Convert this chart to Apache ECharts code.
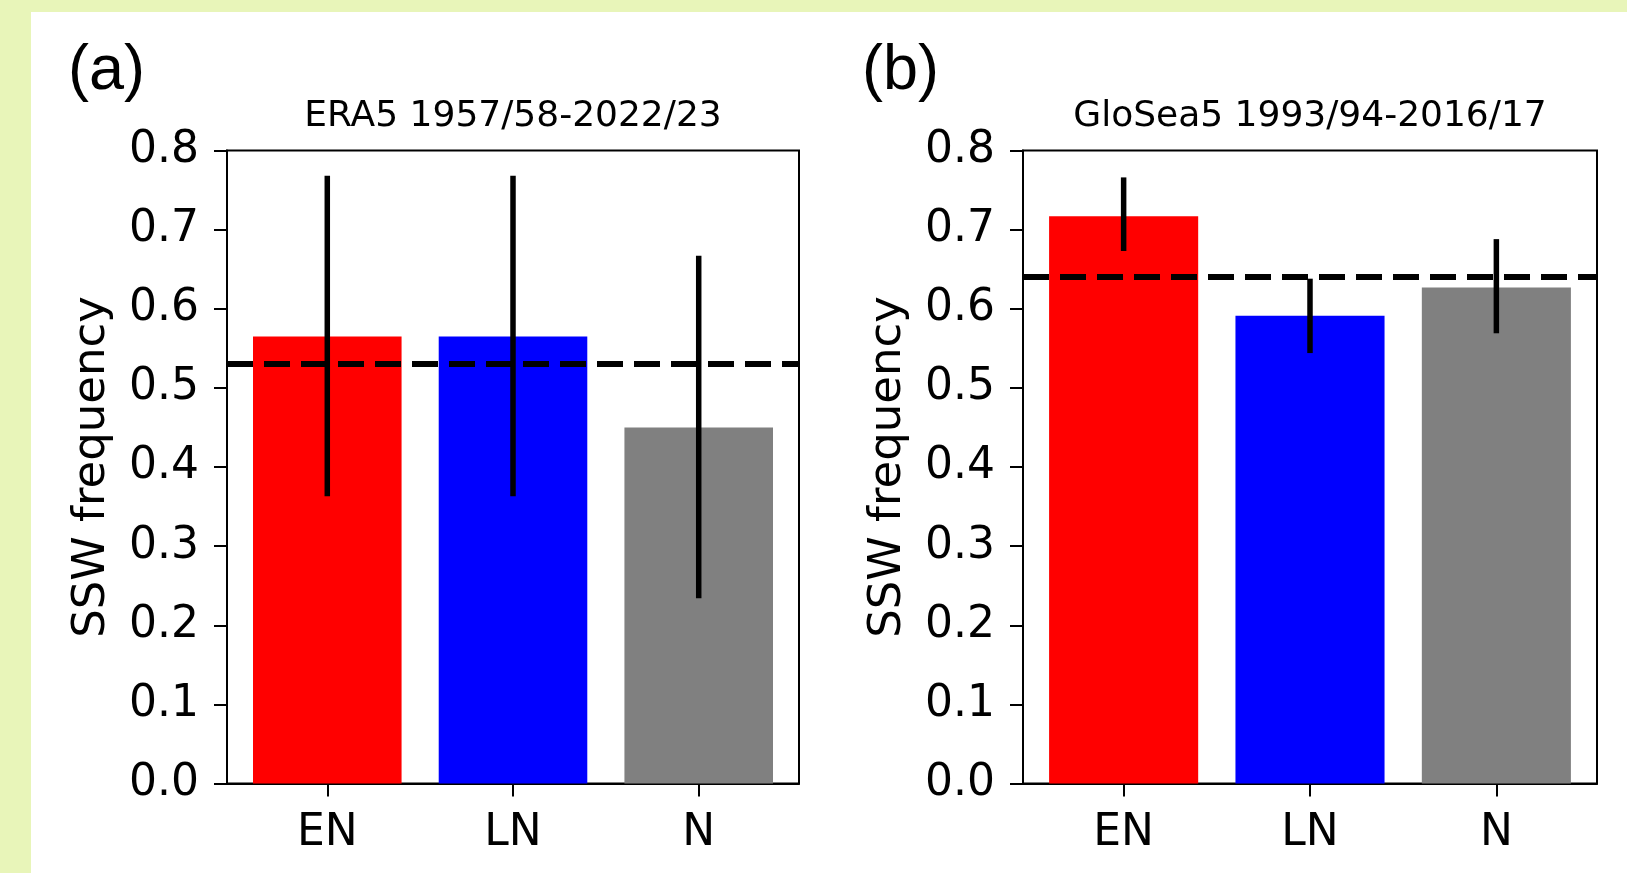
<!DOCTYPE html>
<html>
<head>
<meta charset="utf-8">
<script src="https://cdn.jsdelivr.net/npm/echarts@6/dist/echarts.min.js"></script>
<style>
  html, body { margin: 0; padding: 0; background: #e8f5b9; }
  #chart { width: 1627px; height: 873px; }
</style>
</head>
<body>
<div id="chart"></div>
<script>
// categories and colours of the bars
var categories = ['EN', 'LN', 'N'];
var barColors = ['#ff0000', '#0000ff', '#808080'];

// (a) ERA5 1957/58-2022/23
var era5Freq = [0.565, 0.565, 0.450];
var era5Low = [0.363, 0.363, 0.234];
var era5High = [0.768, 0.768, 0.667];
var era5Mean = 0.530;

// (b) GloSea5 1993/94-2016/17
var gloFreq = [0.717, 0.591, 0.627];
var gloLow = [0.673, 0.544, 0.569];
var gloHigh = [0.766, 0.638, 0.688];
var gloMean = 0.643;

var FONT = 'DejaVu Sans';

function barData(freq) {
    return freq.map(function (v, i) {
        return { value: [i, v], itemStyle: { color: barColors[i] } };
    });
}

function errData(low, high) {
    return low.map(function (v, i) { return [i, v, high[i]]; });
}

function renderErr(params, api) {
    var p1 = api.coord([api.value(0), api.value(1)]);
    var p2 = api.coord([api.value(0), api.value(2)]);
    return {
        type: 'line',
        shape: { x1: p1[0], y1: p1[1], x2: p2[0], y2: p2[1] },
        style: { stroke: '#000', lineWidth: 5.5 }
    };
}

function xAxisOpt(idx) {
    return {
        type: 'value',
        gridIndex: idx,
        min: -0.54,
        max: 2.54,
        splitLine: { show: false },
        axisLine: { show: true, onZero: false, lineStyle: { color: '#000', width: 2 } },
        axisTick: { show: true, length: 13, customValues: [0, 1, 2], lineStyle: { color: '#000', width: 2 } },
        axisLabel: {
            customValues: [0, 1, 2],
            margin: 28,
            color: '#000',
            fontFamily: FONT,
            fontSize: 44,
            formatter: function (v) { return categories[Math.round(v)]; }
        }
    };
}

function yAxisOpt(idx) {
    return {
        type: 'value',
        gridIndex: idx,
        min: 0,
        max: 0.8,
        interval: 0.1,
        name: 'SSW frequency',
        nameLocation: 'middle',
        nameGap: 112,
        nameTextStyle: { color: '#000', fontFamily: FONT, fontSize: 45 },
        splitLine: { show: false },
        axisLine: { show: true, onZero: false, lineStyle: { color: '#000', width: 2 } },
        axisTick: { show: true, length: 13, lineStyle: { color: '#000', width: 2 } },
        axisLabel: {
            margin: 28,
            color: '#000',
            fontFamily: FONT,
            fontSize: 44,
            formatter: function (v) { return v.toFixed(1); }
        }
    };
}

function meanLine(v) {
    return {
        silent: true,
        symbol: 'none',
        label: { show: false },
        lineStyle: { color: '#000', width: 6, type: [26, 11] },
        data: [{ yAxis: v }]
    };
}

var chart = echarts.init(document.getElementById('chart'));
var option = {
    backgroundColor: '#e8f5b9',
    animation: false,
    graphic: [
        { type: 'rect', left: 31, top: 12, shape: { width: 1596, height: 861 }, style: { fill: '#fff' }, z: -10 },
        { type: 'text', x: 68, y: 72, style: { text: '(a)', fill: '#000', font: '63px "Liberation Sans"', verticalAlign: 'middle' } },
        { type: 'text', x: 862, y: 72, style: { text: '(b)', fill: '#000', font: '63px "Liberation Sans"', verticalAlign: 'middle' } },
        { type: 'text', x: 513, y: 117, style: { text: 'ERA5 1957/58-2022/23', fill: '#000', font: '36px "DejaVu Sans"', align: 'center', verticalAlign: 'middle' } },
        { type: 'text', x: 1310, y: 117, style: { text: 'GloSea5 1993/94-2016/17', fill: '#000', font: '36px "DejaVu Sans"', align: 'center', verticalAlign: 'middle' } }
    ],
    grid: [
        { left: 227, top: 150.5, width: 572, height: 633, show: true, borderColor: '#000', borderWidth: 2, backgroundColor: '#fff' },
        { left: 1023, top: 150.5, width: 574, height: 633, show: true, borderColor: '#000', borderWidth: 2, backgroundColor: '#fff' }
    ],
    xAxis: [xAxisOpt(0), xAxisOpt(1)],
    yAxis: [yAxisOpt(0), yAxisOpt(1)],
    series: [
        {
            type: 'bar', xAxisIndex: 0, yAxisIndex: 0, barWidth: '80%',
            data: barData(era5Freq), markLine: meanLine(era5Mean)
        },
        {
            type: 'custom', xAxisIndex: 0, yAxisIndex: 0, z: 3,
            renderItem: renderErr, encode: { x: 0, y: [1, 2] },
            data: errData(era5Low, era5High)
        },
        {
            type: 'bar', xAxisIndex: 1, yAxisIndex: 1, barWidth: '80%',
            data: barData(gloFreq), markLine: meanLine(gloMean)
        },
        {
            type: 'custom', xAxisIndex: 1, yAxisIndex: 1, z: 3,
            renderItem: renderErr, encode: { x: 0, y: [1, 2] },
            data: errData(gloLow, gloHigh)
        }
    ]
};
chart.setOption(option);
</script>
</body>
</html>
